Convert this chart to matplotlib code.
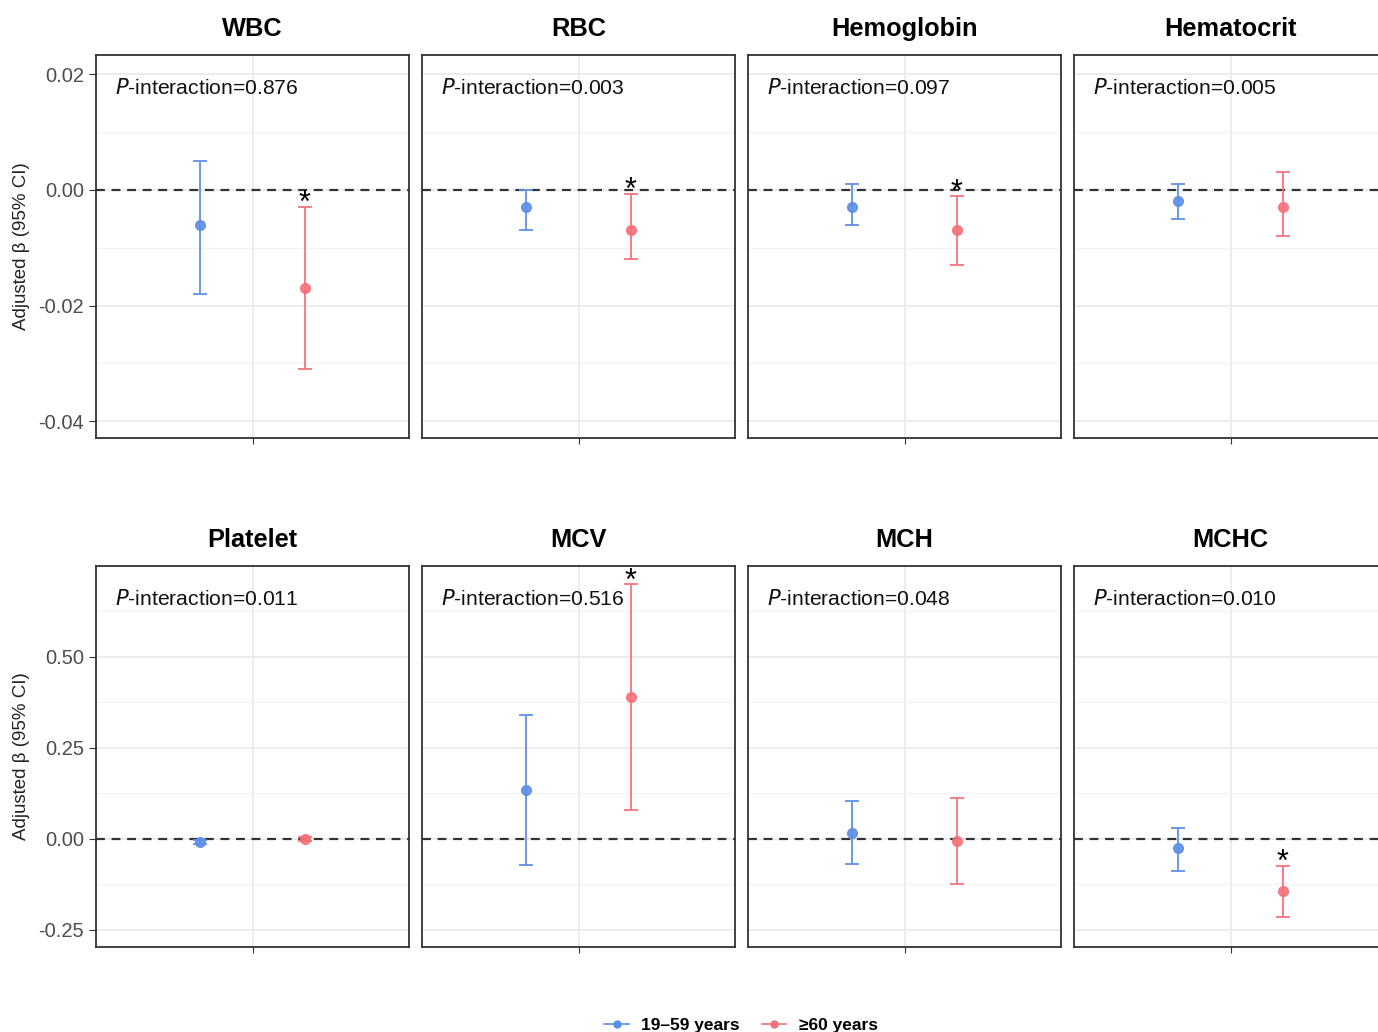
import matplotlib
matplotlib.use("Agg")
import matplotlib.pyplot as plt
from matplotlib.lines import Line2D
from matplotlib.ticker import MultipleLocator

plt.rcParams['font.family'] = ['Liberation Sans', 'DejaVu Sans']

# blood markers, interaction p-values and adjusted betas (95% CI) by age group
markers = ["WBC", "RBC", "Hemoglobin", "Hematocrit", "Platelet", "MCV", "MCH", "MCHC"]
p_interaction = ["0.876", "0.003", "0.097", "0.005", "0.011", "0.516", "0.048", "0.010"]

young_beta = [-0.006, -0.003, -0.003, -0.002, -0.008, 0.135, 0.016, -0.025]
young_low = [-0.018, -0.007, -0.006, -0.005, -0.013, -0.071, -0.069, -0.088]
young_high = [0.005, 0.000, 0.001, 0.001, -0.003, 0.340, 0.104, 0.030]

old_beta = [-0.017, -0.007, -0.007, -0.003, 0.000, 0.390, -0.005, -0.143]
old_low = [-0.031, -0.012, -0.013, -0.008, -0.005, 0.080, -0.124, -0.214]
old_high = [-0.003, -0.0007, -0.001, 0.003, 0.005, 0.700, 0.113, -0.074]
old_significant = [True, True, True, False, False, True, False, True]

group_labels = ["19\u201359 years", "\u226560 years"]
blue = "#5B8EE6"
red = "#F7707A"

# y ticks shown on each row
row_ticks = [[-0.04, -0.02, 0.00, 0.02], [-0.25, 0.00, 0.25, 0.50]]

W, H = 1378, 1032
fig = plt.figure(figsize=(W / 100, H / 100), dpi=100)

col_left = [96, 422, 748, 1074]
row_top = [55, 566]
row_bottom = [438, 947]
panel_w = 313

row_ylim = [(-0.0429, 0.0233), (-0.297, 0.75)]
row_minor = [0.01, 0.125]

for i, name in enumerate(markers):
    r, c = divmod(i, 4)
    top, bot = row_top[r], row_bottom[r]
    ax = fig.add_axes([col_left[c] / W, 1 - bot / H, panel_w / W, (bot - top) / H])
    ax.set_xlim(0.4, 1.6)
    ax.set_yticks(row_ticks[r])
    ax.set_yticklabels(["{:.2f}".format(t) for t in row_ticks[r]])
    ax.yaxis.set_minor_locator(MultipleLocator(row_minor[r]))
    ax.set_ylim(*row_ylim[r])
    ax.set_xticks([1])
    ax.set_xticklabels([""])
    ax.grid(True, which="major", color="#EBEBEB", lw=1.3)
    ax.grid(True, which="minor", axis="y", color="#F2F2F2", lw=0.8)
    ax.set_axisbelow(True)
    for sp in ax.spines.values():
        sp.set_color("#333333")
        sp.set_linewidth(1.3)
    ax.tick_params(axis="x", length=4, color="#333333")
    ax.tick_params(axis="y", which="minor", length=0)
    if c == 0:
        ax.tick_params(axis="y", length=5, color="#333333", labelsize=14.5, labelcolor="#4D4D4D")
        fig.text(22 / W, 1 - (top + bot) / 2 / H, "Adjusted \u03b2 (95% CI)", rotation=90,
                 ha="center", va="center", fontsize=13.5, color="#222222")
    else:
        ax.tick_params(axis="y", length=0, labelleft=False)

    ax.axhline(0, color="#333333", ls=(0, (4, 3)), lw=1.6, zorder=1)

    ax.errorbar([0.8], [young_beta[i]],
                yerr=[[young_beta[i] - young_low[i]], [young_high[i] - young_beta[i]]],
                fmt="o", color=blue, ms=7, capsize=5, elinewidth=1.4, capthick=1.4,
                ecolor=blue, alpha=0.9, zorder=3)
    ax.errorbar([1.2], [old_beta[i]],
                yerr=[[old_beta[i] - old_low[i]], [old_high[i] - old_beta[i]]],
                fmt="o", color=red, ms=7, capsize=5, elinewidth=1.4, capthick=1.4,
                ecolor=red, alpha=0.9, zorder=3)
    if old_significant[i]:
        ax.annotate("*", xy=(1.2, old_high[i]), xytext=(0, 2), textcoords="offset points",
                    ha="center", va="center", fontsize=22, color="black", zorder=4)

    ax.text(19 / panel_w, 1 - 33 / (bot - top), "$\\it{P}$-interaction=" + p_interaction[i],
            transform=ax.transAxes, ha="left", va="center", fontsize=15.2, color="#111111")
    fig.text((col_left[c] + panel_w / 2) / W, 1 - (top - 26) / H, name,
             ha="center", va="center", fontsize=18.3, fontweight="bold")

handles = [Line2D([0], [0], color=blue, marker="o", ms=5, lw=1.2),
           Line2D([0], [0], color=red, marker="o", ms=5, lw=1.2)]
fig.legend(handles, group_labels, loc="lower center", bbox_to_anchor=(741 / W, -0.016), ncol=2,
           frameon=False, handlelength=1.4, handletextpad=0.7, columnspacing=1.3,
           prop={"weight": "bold", "size": 12.5})

fig.savefig("out.png", dpi=100)
